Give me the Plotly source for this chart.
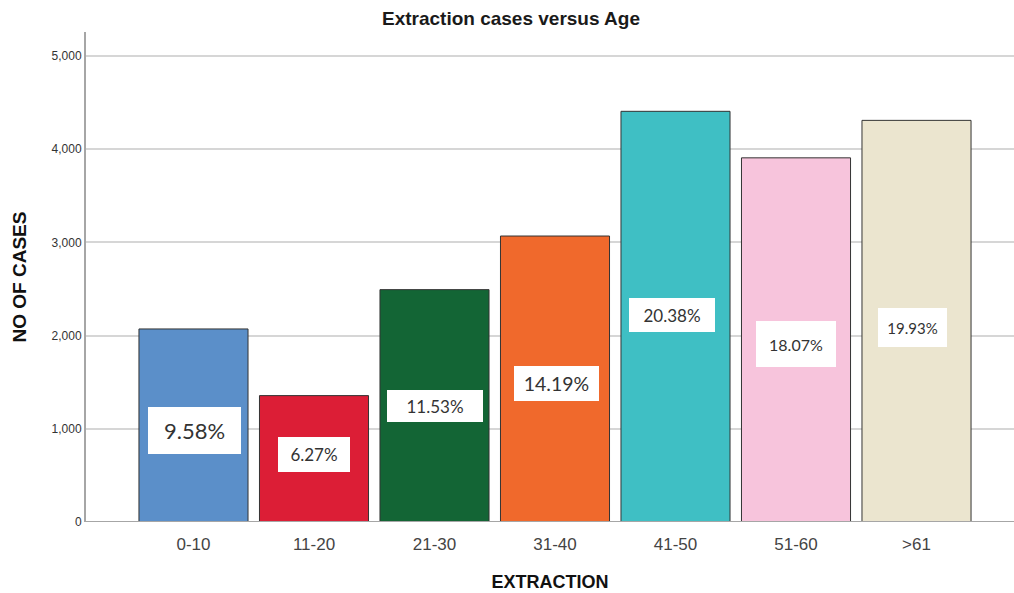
import plotly.graph_objects as go

# Age groups and extraction counts
age_groups = ["0-10", "11-20", "21-30", "31-40", "41-50", "51-60", ">61"]
cases = [2071, 1356, 2493, 3068, 4406, 3907, 4309]
percent_labels = ["9.58%", "6.27%", "11.53%", "14.19%", "20.38%", "18.07%", "19.93%"]
y_ticks = [0, 1000, 2000, 3000, 4000, 5000]

bar_colors = ["#5b8fc9", "#dc1e36", "#136535", "#f0692c", "#3fbfc4", "#f7c4dc", "#ebe5cf"]

# Label box placement (fraction of bar height), nudges and box sizes
label_frac = [0.474, 0.534, 0.499, 0.484, 0.504, 0.489, 0.484]
label_xshift = [1, 0, 0, 1.5, -3.5, 0, -4]
label_box_w = [93, 72, 96, 85, 86, 80, 69]
label_box_h = [47, 35, 32, 35, 34, 46, 39]
label_font = [22, 17, 17, 19.5, 17, 16, 15]

fig = go.Figure(
    go.Bar(
        x=age_groups,
        y=cases,
        width=0.905,
        marker=dict(color=bar_colors, line=dict(color="#333333", width=1)),
        hoverinfo="skip",
    )
)

for i, (grp, val, txt) in enumerate(zip(age_groups, cases, percent_labels)):
    fig.add_annotation(
        x=grp,
        y=val * label_frac[i],
        xref="x",
        yref="y",
        text=txt,
        showarrow=False,
        xshift=label_xshift[i],
        width=label_box_w[i],
        height=label_box_h[i],
        bgcolor="white",
        borderpad=0,
        borderwidth=0,
        align="center",
        valign="middle",
        font=dict(family="Lato, Open Sans, sans-serif", size=label_font[i], color="#333333"),
    )

fig.update_layout(
    width=1014,
    height=593,
    margin=dict(l=86, r=0, t=32, b=71),
    paper_bgcolor="white",
    plot_bgcolor="white",
    showlegend=False,
    title=dict(
        text="<b>Extraction cases versus Age</b>",
        x=511 / 1014,
        xanchor="center",
        y=1 - 18 / 593,
        yanchor="middle",
        font=dict(family="Liberation Sans, Arial, sans-serif", size=19, color="#1a1a1a"),
    ),
    xaxis=dict(
        range=[-0.892, 6.809],
        showgrid=False,
        showline=False,
        ticks="",
        ticklabelstandoff=10,
        tickfont=dict(family="Liberation Sans, Arial, sans-serif", size=17, color="#444444"),
        title=dict(
            text="<b>EXTRACTION</b>",
            font=dict(family="Liberation Sans, Arial, sans-serif", size=18, color="#111111"),
            standoff=22,
        ),
        fixedrange=True,
    ),
    yaxis=dict(
        range=[0, 5257],
        tickvals=y_ticks,
        tickformat=",",
        showgrid=True,
        gridcolor="#d6d6d6",
        gridwidth=1.5,
        zeroline=False,
        showline=True,
        linecolor="#a6a6a6",
        linewidth=2,
        ticks="",
        tickfont=dict(family="Liberation Sans, Arial, sans-serif", size=12, color="#333333"),
        title=dict(
            text="<b>NO OF CASES</b>",
            font=dict(family="Liberation Sans, Arial, sans-serif", size=19, color="#111111"),
            standoff=20,
        ),
        fixedrange=True,
    ),
)

# Baseline along zero
fig.add_shape(
    type="line", xref="paper", yref="y", x0=0, x1=1, y0=0, y1=0,
    line=dict(color="#a6a6a6", width=2), layer="above",
)

fig.write_html("out.html")
